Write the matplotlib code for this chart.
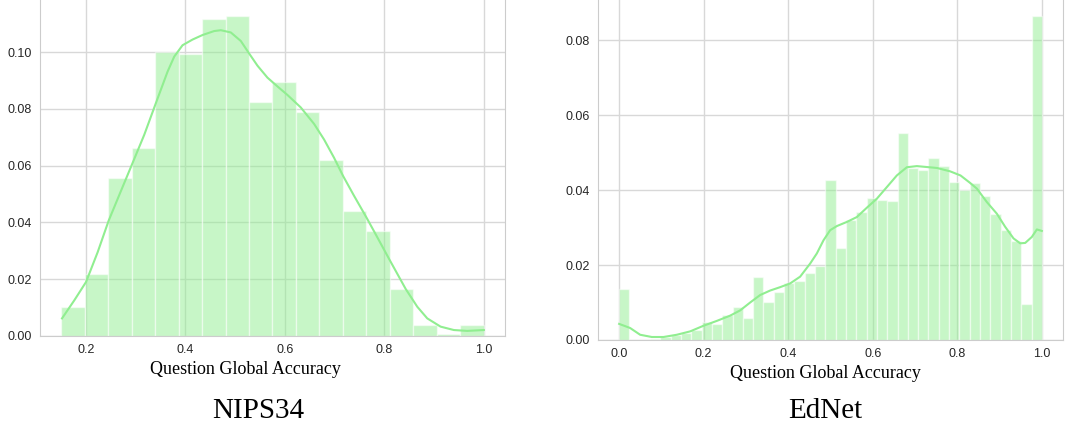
import matplotlib.pyplot as plt
import numpy as np

# NIPS34: 18 bins between 0.15 and 1.0 (stat = probability)
nips_range = (0.15, 1.0)
nips_probs = [0.0103, 0.0219, 0.0558, 0.0663, 0.1000, 0.0992, 0.1118, 0.1127, 0.0823,
              0.0896, 0.0790, 0.0620, 0.0441, 0.0369, 0.0166, 0.0040, 0.0008, 0.0040]
nips_kde_x = [0.1518, 0.1766, 0.2, 0.2234, 0.2455, 0.2703, 0.2924, 0.3172, 0.3392, 0.364,
              0.3774, 0.3941, 0.4142, 0.4343, 0.4577, 0.4711, 0.4912, 0.5113, 0.528, 0.5448,
              0.5648, 0.5849, 0.605, 0.6318, 0.6586, 0.6787, 0.6987, 0.7168, 0.7389, 0.7637,
              0.7791, 0.8105, 0.8427, 0.8661, 0.8862, 0.913, 0.9397, 0.9665, 1.0]
nips_kde_y = [0.0062, 0.0126, 0.0190, 0.0295, 0.0406, 0.0511, 0.0604, 0.0709, 0.0814, 0.0931,
              0.0984, 0.1024, 0.1044, 0.1060, 0.1074, 0.1077, 0.1069, 0.1039, 0.0995, 0.0952,
              0.0910, 0.0879, 0.0849, 0.0805, 0.0747, 0.0692, 0.0628, 0.0564, 0.0494, 0.0418,
              0.0369, 0.0268, 0.0166, 0.0103, 0.0062, 0.0033, 0.0021, 0.0018, 0.0021]

# EdNet: 41 bins between 0 and 1
ednet_range = (0.0, 1.0)
ednet_probs = [0.0136, 0.0, 0.0, 0.0004, 0.0009, 0.0013, 0.0018, 0.0027, 0.0049, 0.0044,
               0.0067, 0.0089, 0.0060, 0.0168, 0.0102, 0.0127, 0.0151, 0.0158, 0.0178, 0.0198,
               0.0428, 0.0246, 0.0319, 0.0341, 0.0378, 0.0373, 0.0372, 0.0553, 0.0458, 0.0453,
               0.0485, 0.0465, 0.0421, 0.0399, 0.0418, 0.0384, 0.0335, 0.0293, 0.0265, 0.0097,
               0.0864]
ednet_kde_x = [0.0, 0.026, 0.0497, 0.0773, 0.1049, 0.1364, 0.168, 0.1995, 0.2311, 0.2626,
               0.2863, 0.3099, 0.3336, 0.3573, 0.3809, 0.4046, 0.4282, 0.4519, 0.4677, 0.4834,
               0.4992, 0.515, 0.5386, 0.5623, 0.586, 0.6096, 0.6333, 0.6569, 0.6806, 0.7043,
               0.752, 0.783, 0.8076, 0.8304, 0.8462, 0.8699, 0.8935, 0.9132, 0.933, 0.9487,
               0.9606, 0.9763, 0.9882, 1.0]
ednet_kde_y = [0.0043, 0.0032, 0.0014, 0.0008, 0.0008, 0.0014, 0.0023, 0.0038, 0.0051, 0.0065,
               0.0079, 0.0100, 0.0120, 0.0132, 0.0141, 0.0151, 0.0169, 0.0204, 0.0231, 0.0266,
               0.0293, 0.0304, 0.0315, 0.0328, 0.0353, 0.0377, 0.0408, 0.0439, 0.0461, 0.0464,
               0.0459, 0.0450, 0.0439, 0.0419, 0.0404, 0.0368, 0.0337, 0.0302, 0.0271, 0.0258,
               0.0259, 0.0275, 0.0295, 0.0291]

color = 'lightgreen'
tick_font = 'Liberation Sans'
serif_font = 'Liberation Serif'

fig = plt.figure(figsize=(10.66, 4.30), dpi=100)
ax1 = fig.add_axes([40 / 1066, 94 / 430, 465 / 1066, 336 / 430])
ax2 = fig.add_axes([598 / 1066, 90 / 430, 465 / 1066, 340 / 430])


def draw(ax, rng, probs, kx, ky, yticks, xticks, label_x):
    edges = np.linspace(rng[0], rng[1], len(probs) + 1)
    ax.set_axisbelow(True)
    ax.grid(True, color='#d8d8d8', linewidth=1)
    ax.bar(edges[:-1], probs, width=np.diff(edges), align='edge', color=color,
           alpha=0.5, edgecolor='white', linewidth=1)
    ax.plot(kx, ky, color=color, linewidth=1.5)
    ax.set_yticks(yticks)
    ax.set_xticks(xticks)
    ax.set_yticklabels(['%.2f' % v for v in yticks], family=tick_font, fontsize=9, color='#262626')
    ax.set_xticklabels(['%.1f' % v for v in xticks], family=tick_font, fontsize=9, color='#262626')
    ax.tick_params(length=0, pad=6)
    ax.set_ylim(bottom=0)
    for s in ['left', 'right', 'bottom']:
        ax.spines[s].set_color('#cccccc')
    ax.spines['top'].set_visible(False)
    ax.set_xlabel('Question Global Accuracy', family=serif_font, fontsize=13)
    ax.xaxis.set_label_coords(label_x, -0.075)


draw(ax1, nips_range, nips_probs, nips_kde_x, nips_kde_y,
     [0.0, 0.02, 0.04, 0.06, 0.08, 0.10], [0.2, 0.4, 0.6, 0.8, 1.0], 0.441)
draw(ax2, ednet_range, ednet_probs, ednet_kde_x, ednet_kde_y,
     [0.0, 0.02, 0.04, 0.06, 0.08], [0.0, 0.2, 0.4, 0.6, 0.8, 1.0], 0.49)

fig.text(258 / 1066, 1 - 418 / 430, 'NIPS34', family=serif_font, fontsize=21,
         ha='center', va='baseline')
fig.text(825 / 1066, 1 - 418 / 430, 'EdNet', family=serif_font, fontsize=21,
         ha='center', va='baseline')

fig.savefig('out.png', dpi=100)
